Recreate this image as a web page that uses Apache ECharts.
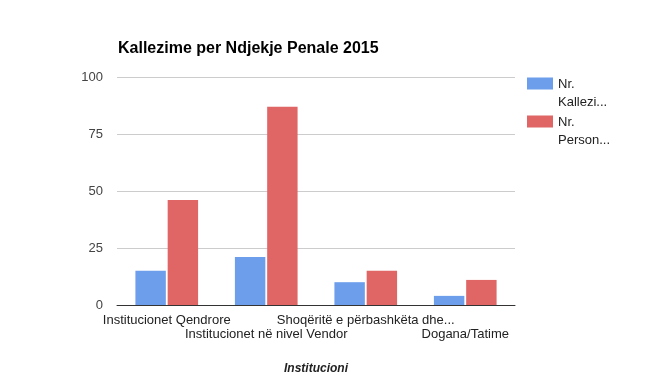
<!DOCTYPE html>
<html><head><meta charset="utf-8">
<script src="https://cdn.jsdelivr.net/npm/echarts@6/dist/echarts.min.js"></script>
<style>html,body{margin:0;padding:0;background:#fff}#c{width:646px;height:391px}</style>
</head><body><div id="c"></div>
<script>
const categories = ["Institucionet Qendrore", "Institucionet në nivel Vendor", "Shoqëritë e përbashkëta dhe...", "Dogana/Tatime"];
const seriesNames = ["Nr.\nKallezi...", "Nr.\nPerson..."];
const kallezime = [15, 21, 10, 4];
const persona = [46, 87, 15, 11];
const yTicks = [0, 25, 50, 75, 100];

const chart = echarts.init(document.getElementById('c'));
const font = '"Liberation Sans", Arial, sans-serif';
chart.setOption({
  animation: false,
  textStyle: {fontFamily: font},
  title: {text: 'Kallezime per Ndjekje Penale 2015', left: 113, top: 36,
    textStyle: {fontFamily: font, fontSize: 16, fontWeight: 'bold', color: '#000'}},
  legend: {orient: 'vertical', left: 522, top: 70, itemWidth: 26, itemHeight: 31, itemGap: 2,
    icon: 'path://M0,0H26V12H0Z M0,31L26,31',
    textStyle: {fontFamily: font, fontSize: 13, color: '#222', lineHeight: 18},
    data: seriesNames},
  grid: {left: 117, right: 131, top: 77, bottom: 86},
  xAxis: {type: 'category', data: categories,
    name: 'Institucioni', nameLocation: 'middle', nameGap: 58,
    nameTextStyle: {fontFamily: font, fontSize: 12, fontStyle: 'italic', fontWeight: 'bold', color: '#222'},
    axisLine: {lineStyle: {color: '#333', width: 1}}, axisTick: {show: false},
    axisLabel: {interval: 0, margin: 8, color: '#222', fontSize: 13, fontFamily: font, lineHeight: 14,
      formatter: (v, i) => i % 2 === 1 ? '\n' + v : v}},
  yAxis: {type: 'value', min: 0, max: 100, interval: 25,
    axisLabel: {color: '#444', fontSize: 13, fontFamily: font, margin: 14,
      formatter: v => yTicks.includes(v) ? String(v) : ''},
    axisLine: {show: false}, axisTick: {show: false},
    splitLine: {lineStyle: {color: '#cccccc'}}},
  series: [
    {name: seriesNames[0], type: 'bar', data: kallezime, itemStyle: {color: '#6d9eeb'}, barGap: '6%', barCategoryGap: '37%'},
    {name: seriesNames[1], type: 'bar', data: persona, itemStyle: {color: '#e06666'}}
  ]
});
</script></body></html>
